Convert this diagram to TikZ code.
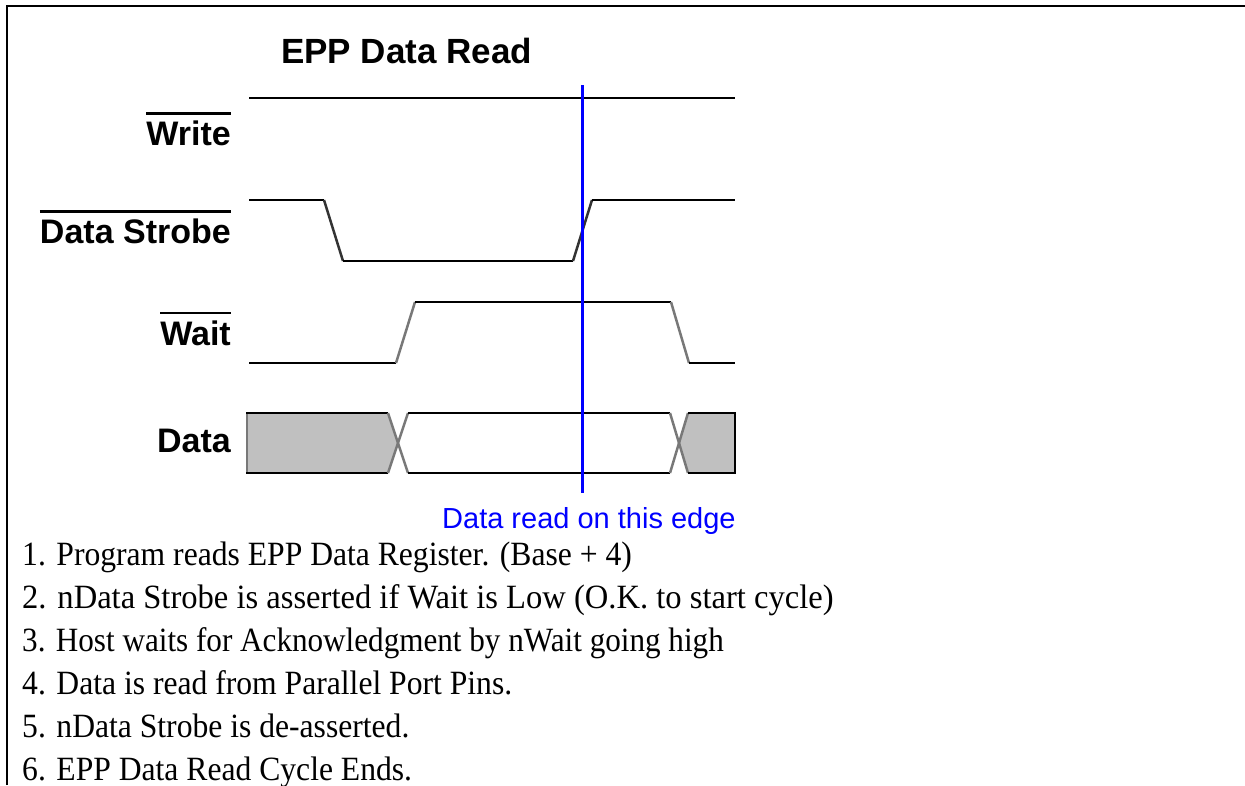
\documentclass[tikz,border=0pt]{standalone}
\usepackage{fontspec}
\setmainfont{Liberation Serif}
\newfontfamily\arialf{Liberation Sans}
\newfontfamily\timesf[FakeStretch=0.93]{Liberation Serif}
\definecolor{busgray}{RGB}{192,192,192}
\definecolor{edgegray}{RGB}{120,120,120}
\definecolor{pureblue}{RGB}{0,0,255}
\begin{document}
\begin{tikzpicture}[x=1pt,y=-1pt,
  frame/.style={line width=2.5pt,black},
  wave/.style={line width=2.8pt,black,line join=miter},
  slope/.style={line width=2.5pt,black!80},
  slopeg/.style={line width=2.5pt,edgegray},
  lbl/.style={font=\arialf\bfseries\fontsize{34}{40}\selectfont,anchor=base east,inner sep=0pt},
  ovl/.style={line width=2.5pt,black},
  ttl/.style={font=\arialf\bfseries\fontsize{35}{40}\selectfont,anchor=base west,inner sep=0pt},
  bluetxt/.style={font=\arialf\fontsize{29}{34}\selectfont,anchor=base west,inner sep=0pt,text=pureblue},
  note/.style={font=\timesf\fontsize{34}{40}\selectfont,anchor=base west,inner sep=0pt},
  cross/.style={line width=2.5pt,edgegray},
  busline/.style={line width=2.8pt,black}]
\useasboundingbox (0,0) rectangle (1245,785);
\fill[white] (0,0) rectangle (1245,785);
% frame
\draw[frame] (7,785) -- (7,6) -- (1245,6);
% title
\node[ttl] (title) at (281,63) {EPP Data Read};
% labels
\node[lbl] (lw) at (231,145.5) {Write};
\draw[ovl] ([yshift=7pt]lw.north west) -- ([yshift=7pt]lw.north east);
\node[lbl] (lds) at (231,243.5) {Data Strobe};
\draw[ovl] ([yshift=7pt]lds.north west) -- ([yshift=7pt]lds.north east);
\node[lbl] (lwait) at (231,345) {Wait};
\draw[ovl] ([yshift=7pt]lwait.north west) -- ([yshift=7pt]lwait.north east);
\node[lbl] (ld) at (231,452) {Data};
% Write
\draw[wave] (249,98) -- (735,98);
% Data Strobe
\draw[wave] (249,200) -- (324,200);
\draw[slope] (324,200) -- (343,261);
\draw[wave] (343,261) -- (573,261);
\draw[slope] (573,261) -- (592,200);
\draw[wave] (592,200) -- (735,200);
% Wait
\draw[wave] (249,363) -- (396,363);
\draw[slopeg] (396,363) -- (415,302);
\draw[wave] (415,302) -- (671,302);
\draw[slopeg] (671,302) -- (689,363);
\draw[wave] (689,363) -- (735,363);
% Data bus
\fill[busgray] (247,413) -- (388,413) -- (398,443) -- (388,473) -- (247,473) -- cycle;
\fill[busgray] (679,443) -- (688,413) -- (734,413) -- (734,473) -- (688,473) -- cycle;
\draw[cross] (247,413) -- (247,473);
\draw[busline] (246,413) -- (388,413);
\draw[busline] (246,473) -- (388,473);
\draw[cross] (388,413) -- (408,473);
\draw[cross] (408,413) -- (388,473);
\draw[busline] (408,413) -- (670,413);
\draw[busline] (408,473) -- (670,473);
\draw[cross] (670,413) -- (688,473);
\draw[cross] (688,413) -- (670,473);
\draw[busline] (688,413) -- (735,413) -- (735,473) -- (688,473);
% blue edge marker
\draw[line width=3pt,pureblue] (582,85) -- (582,493);
\node[bluetxt] (edge) at (442,528) {Data read on this edge};
% notes
\node[note] (n1) at (22,565) {1. Program reads EPP Data Register. (Base + 4)};
\node[note] (n2) at (22,608) {\scalebox{1.03}[1]{2. nData Strobe is asserted if Wait is Low (O.K. to start cycle)}};
\node[note] (n3) at (22,651) {\scalebox{0.985}[1]{3. Host waits for Acknowledgment by nWait going high}};
\node[note] (n4) at (22,694) {4. Data is read from Parallel Port Pins.};
\node[note] (n5) at (22,737) {5. nData Strobe is de-asserted.};
\node[note] (n6) at (22,780) {6. EPP Data Read Cycle Ends.};
\end{tikzpicture}
\end{document}
